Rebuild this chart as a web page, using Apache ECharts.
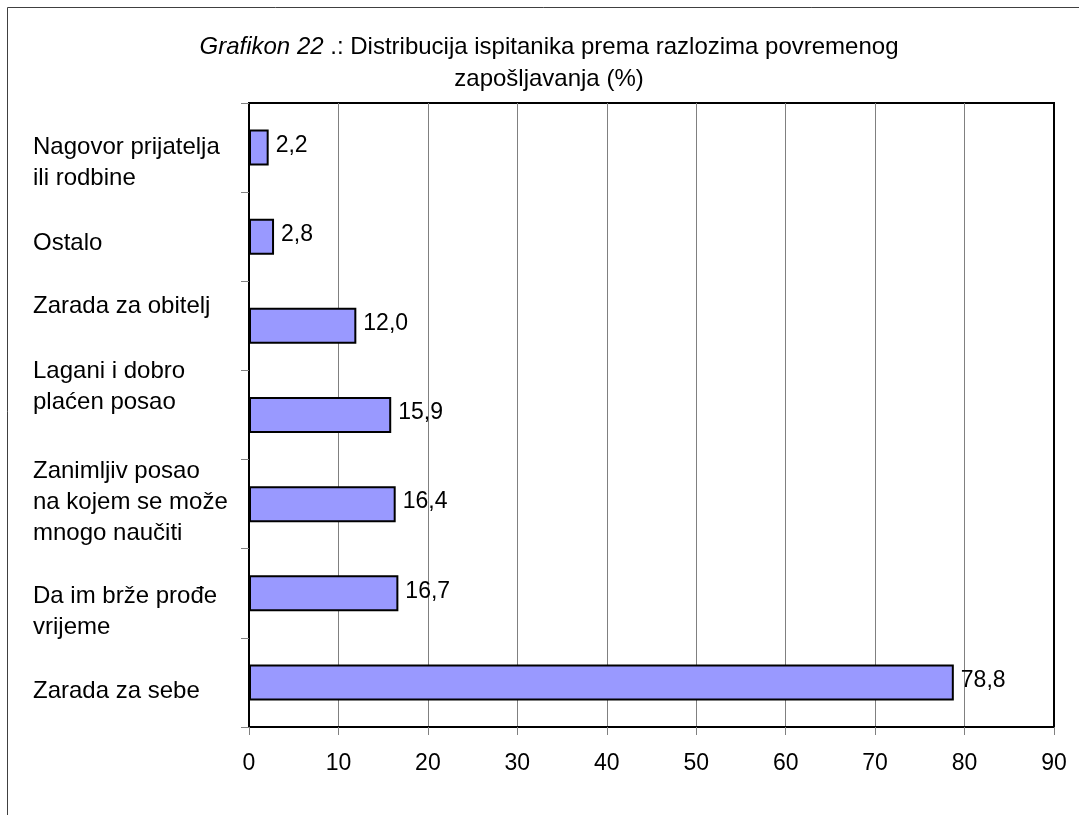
<!DOCTYPE html>
<html>
<head>
<meta charset="utf-8">
<script src="https://cdn.jsdelivr.net/npm/echarts@6/dist/echarts.min.js"></script>
<style>
  html, body { margin: 0; padding: 0; background: #fff; }
  #chart { width: 1079px; height: 815px; }
</style>
</head>
<body>
<div id="chart"></div>
<script>
// Categories, top to bottom as shown
const categories = [
  'Nagovor prijatelja\nili rodbine',
  'Ostalo',
  'Zarada za obitelj',
  'Lagani i dobro\nplaćen posao',
  'Zanimljiv posao\nna kojem se može\nmnogo naučiti',
  'Da im brže prođe\nvrijeme',
  'Zarada za sebe'
];
// Percentages
const values = [2.2, 2.8, 12.0, 15.9, 16.4, 16.7, 78.8];
// Value axis ticks
const axisMin = 0;
const axisMax = 90;
const axisStep = 10;

// Label vertical nudges (px, + = down), presentation only
const labelShift = [15, 7, -19, -28, -2, 19, 9];

const FONT = "'Liberation Sans', Arial, sans-serif";

const chart = echarts.init(document.getElementById('chart'), null, { renderer: 'canvas' });

// spacer rich styles: an invisible line of height 2*|shift| above or below the label
const rich = {};
labelShift.forEach((d, i) => {
  rich['g' + i] = { fontSize: 1, lineHeight: Math.max(1, 2 * Math.abs(d)), color: 'transparent' };
});

chart.setOption({
  backgroundColor: '#ffffff',
  animation: false,
  title: {
    text: '{i|Grafikon 22} .: Distribucija ispitanika prema razlozima povremenog\nzapošljavanja (%)',
    left: 549,
    textAlign: 'center',
    top: 31,
    padding: 0,
    textStyle: {
      fontFamily: FONT,
      fontSize: 24,
      fontWeight: 'normal',
      color: '#000',
      lineHeight: 32,
      rich: {
        i: { fontFamily: FONT, fontSize: 24, fontStyle: 'italic', color: '#000', lineHeight: 32 }
      }
    }
  },
  graphic: [{
    type: 'rect',
    shape: { x: 7.5, y: 7.5, width: 1200, height: 1000 },
    style: { fill: 'none', stroke: '#404040', lineWidth: 1 },
    silent: true,
    z: -10
  }],
  grid: {
    left: 249,
    top: 103,
    width: 805,
    height: 624,
    containLabel: false,
    outerBoundsMode: 'none',
    show: true,
    backgroundColor: '#ffffff',
    borderColor: '#000',
    borderWidth: 2
  },
  xAxis: {
    type: 'value',
    min: axisMin,
    max: axisMax,
    interval: axisStep,
    axisLine: { show: true, lineStyle: { color: '#000', width: 2 } },
    axisTick: { show: true, inside: false, length: 8, lineStyle: { color: '#808080', width: 1 } },
    splitLine: { show: true, showMinLine: false, showMaxLine: false, lineStyle: { color: '#808080', width: 1 } },
    axisLabel: {
      margin: 25,
      fontFamily: FONT,
      fontSize: 23,
      color: '#000'
    }
  },
  yAxis: {
    type: 'category',
    inverse: true,
    data: categories,
    boundaryGap: true,
    axisLine: { show: true, lineStyle: { color: '#000', width: 2 } },
    axisTick: { show: true, inside: false, length: 8, alignWithLabel: false, lineStyle: { color: '#808080', width: 1 } },
    splitLine: { show: false },
    axisLabel: {
      interval: 0,
      align: 'left',
      verticalAlign: 'middle',
      margin: 216,
      fontFamily: FONT,
      fontSize: 24,
      lineHeight: 31,
      color: '#000',
      rich: rich,
      formatter: (v) => {
        const i = categories.indexOf(v);
        const d = labelShift[i] || 0;
        if (Math.abs(d) < 1) return v;
        const sp = '{g' + i + '| }';
        return d > 0 ? sp + '\n' + v : v + '\n' + sp;
      }
    }
  },
  series: [{
    type: 'bar',
    data: values,
    barWidth: 36,
    itemStyle: { color: '#9999FF', borderColor: '#000', borderWidth: 2 },
    label: {
      show: true,
      position: 'right',
      distance: 7,
      offset: [0, -2],
      fontFamily: FONT,
      fontSize: 23,
      color: '#000',
      formatter: p => p.value.toFixed(1).replace('.', ',')
    }
  }]
});
</script>
</body>
</html>
